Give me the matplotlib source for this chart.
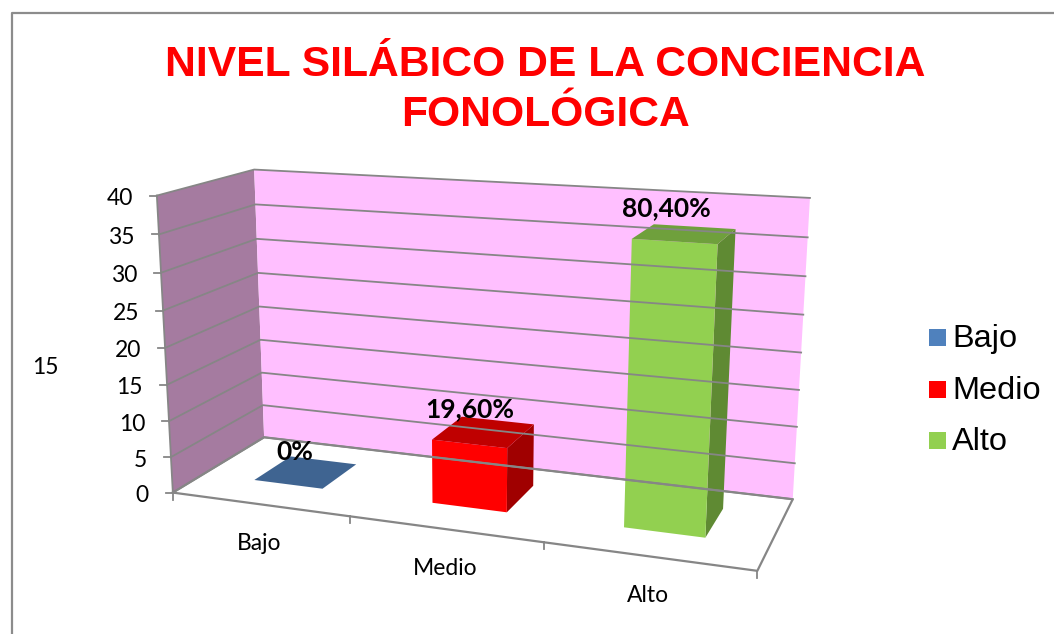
import numpy as np
import matplotlib
matplotlib.use('Agg')
import matplotlib.pyplot as plt

categorias = ['Bajo', 'Medio', 'Alto']
valores = [0, 8.7, 36.7]
etiquetas = ['0%', '19,60%', '80,40%']
ticks_y = [0, 5, 10, 15, 20, 25, 30, 35, 40]
colores = ['#4F81BD', '#FF0000', '#92D050']
colores_arriba = ['#3F6491', '#BF0000', '#6FA03C']
colores_lado = ['#3F6491', '#A00000', '#5F8A33']
y_max = 40

# esquinas de la caja 3D en pixeles: (u, prof, altura) -> (x, y)
esquinas = [
    ((0, 0, 0), (173, 493)), ((1, 0, 0), (757, 571)),
    ((1, 1, 0), (793, 499)), ((0, 1, 0), (264, 437)),
    ((0, 0, 1), (157, 195)), ((0, 1, 1), (254, 170)),
    ((1, 1, 1), (810, 198)),
]

# camara proyectiva ajustada a las esquinas
A, b = [], []
for (X, Y, Z), (px, py) in esquinas:
    A.append([X, Y, Z, 1, 0, 0, 0, 0, -px * X, -px * Y, -px * Z])
    b.append(px)
    A.append([0, 0, 0, 0, X, Y, Z, 1, -py * X, -py * Y, -py * Z])
    b.append(py)
cam = np.linalg.lstsq(np.array(A, float), np.array(b, float), rcond=None)[0]
cam = np.append(cam, 1).reshape(3, 4)


def proy(u, d, v):
    p = cam @ np.array([u, d, v / y_max, 1.0])
    return p[0] / p[2], p[1] / p[2]


fig = plt.figure(figsize=(10.54, 6.34), dpi=100)
ax = fig.add_axes([0, 0, 1, 1])
ax.set_xlim(0, 1054)
ax.set_ylim(634, 0)
ax.axis('off')

gris = '#868686'
# marco del grafico
ax.plot([11.5, 11.5, 1054], [634, 13, 13], color='#8C8C8C', lw=1.6)

# paredes y suelo
ax.fill(*zip(proy(0, 0, 0), proy(0, 1, 0), proy(0, 1, y_max), proy(0, 0, y_max)),
        color='#A57BA0', lw=0)
ax.fill(*zip(proy(0, 1, 0), proy(1, 1, 0), proy(1, 1, y_max), proy(0, 1, y_max)),
        color='#FFBFFF', lw=0)
ax.plot(*zip(proy(0, 0, 0), proy(0, 0, y_max)), color=gris, lw=1.3)
ax.plot(*zip(proy(0, 0, 0), proy(1, 0, 0), proy(1, 1, 0), proy(0, 1, 0), proy(0, 0, 0)),
        color=gris, lw=1.6)

for t in ticks_y:
    ax.plot(*zip(proy(0, 0, t), proy(0, 1, t), proy(1, 1, t)), color=gris, lw=1.3)
    x, y = proy(0, 0, t)
    ax.plot([x - 7, x], [y, y], color=gris, lw=1.3)
    ax.text(x - 24, y + 3, str(t), ha='right', va='center', fontsize=16.5, family='Lato')

for i in range(len(categorias) + 1):
    x, y = proy(i / 3, 0, 0)
    ax.plot([x, x], [y, y + 7], color=gris, lw=1.3)

ax.text(45, 368, '15', ha='center', va='center', fontsize=16.5, family='Lato')

# barras
ancho = 0.066
d0, d1 = 0.32, 0.74
centros = [0.166, 0.502, 0.833]
desp_etiqueta = [-8, -11, -18]
for i, val in enumerate(valores):
    u0, u1 = centros[i] - ancho, centros[i] + ancho
    if val > 0:
        ax.fill(*zip(proy(u1, d0, 0), proy(u1, d1, 0), proy(u1, d1, val), proy(u1, d0, val)),
                color=colores_lado[i], lw=0)
        ax.fill(*zip(proy(u0, d0, 0), proy(u1, d0, 0), proy(u1, d0, val), proy(u0, d0, val)),
                color=colores[i], lw=0)
    ax.fill(*zip(proy(u0, d0, val), proy(u1, d0, val), proy(u1, d1, val), proy(u0, d1, val)),
            color=colores_arriba[i], lw=0)
    x, y = proy(centros[i], d1, val)
    ax.text(x - 28, y + desp_etiqueta[i], etiquetas[i], ha='center', va='center', fontsize=19,
            fontweight='bold', family='Lato')
    x, y = proy((i + 0.5) / 3, 0, 0)
    ax.text(x, y + 39, categorias[i], ha='center', va='center', fontsize=16.5, family='Lato')

# titulo
ax.text(545, 65, 'NIVEL SILÁBICO DE LA CONCIENCIA', ha='center', va='center', color='#FF0000',
        fontsize=30.7, fontweight='bold', family='Liberation Sans')
ax.text(545, 115, 'FONOLÓGICA', ha='center', va='center', color='#FF0000',
        fontsize=30.7, fontweight='bold', family='Liberation Sans')

# leyenda
leyenda_y = [337, 389, 440]
for nom, col, y in zip(categorias, colores, leyenda_y):
    ax.add_patch(plt.Rectangle((929, y - 8), 17, 17, color=col, lw=0))
    ax.text(952, y + 2, nom, ha='left', va='center', fontsize=23.4, family='Liberation Sans')

fig.savefig('out.png', dpi=100)
